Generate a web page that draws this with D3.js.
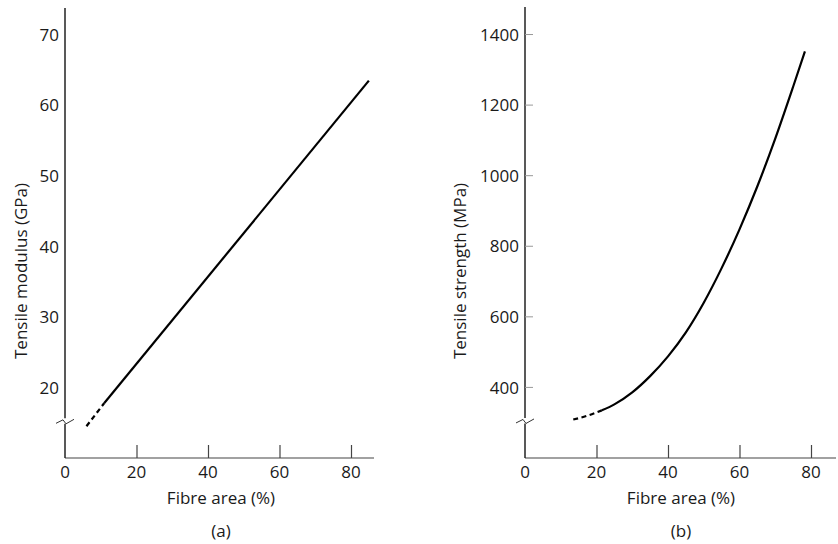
<!DOCTYPE html>
<html>
<head>
<meta charset="utf-8">
<script src="https://cdn.jsdelivr.net/npm/d3@7/dist/d3.min.js"></script>
<style>
html,body{margin:0;padding:0;background:#fff;}
svg{display:block;}
text{font-family:"Open Sans",sans-serif;fill:#1a1a1a;}
</style>
</head>
<body>
<svg id="chart" width="838" height="544"></svg>
<script>
// ---- data ----
const xTicks = [0, 20, 40, 60, 80];
const modulusTicks = [20, 30, 40, 50, 60, 70];
const strengthTicks = [400, 600, 800, 1000, 1200, 1400];

// Panel (a): tensile modulus vs fibre area
const modulusDashedX = [6, 11];
const modulusDashedY = [14.5, 17.8];
const modulusSolidX = [11, 85];
const modulusSolidY = [17.8, 63.5];

// Panel (b): tensile strength vs fibre area
const strengthDashedX = [13.5, 17.5, 21.5];
const strengthDashedY = [309, 320, 335];
const strengthSolidX = [21.5, 25, 30, 35, 40, 45, 50, 55, 60, 65, 70, 75, 78.3];
const strengthSolidY = [335, 352, 386, 432, 488, 556, 640, 738, 848, 970, 1105, 1252, 1352];

const labels = {
  xTitle: "Fibre area (%)",
  aTitle: "Tensile modulus (GPa)",
  bTitle: "Tensile strength (MPa)",
  aCap: "(a)",
  bCap: "(b)"
};

// ---- layout ----
const svg = d3.select("#chart");
const baseY = 458;

const panels = [
  {
    x0: 65, xEnd: 374, top: 8,
    yDomain: [10, 73.8], yRange: [458, 8],
    yTicks: modulusTicks, yTickLen: 0, breakVal: 15.2,
    dashed: modulusDashedX.map((d, i) => [d, modulusDashedY[i]]),
    solid: modulusSolidX.map((d, i) => [d, modulusSolidY[i]]),
    curve: d3.curveLinear,
    title: labels.aTitle, titleX: 27, cap: labels.aCap
  },
  {
    x0: 525, xEnd: 836, top: 7,
    yDomain: [200, 1478], yRange: [458, 7],
    yTicks: strengthTicks, yTickLen: 8, breakVal: 305,
    dashed: strengthDashedX.map((d, i) => [d, strengthDashedY[i]]),
    solid: strengthSolidX.map((d, i) => [d, strengthSolidY[i]]),
    curve: d3.curveMonotoneX,
    title: labels.bTitle, titleX: 466, cap: labels.bCap
  }
];

panels.forEach(p => {
  const x = d3.scaleLinear().domain([0, 80]).range([p.x0, p.x0 + 80 * 3.575]);
  const y = d3.scaleLinear().domain(p.yDomain).range(p.yRange);
  const g = svg.append("g");

  // x axis baseline
  g.append("line")
    .attr("x1", p.x0).attr("x2", p.xEnd)
    .attr("y1", baseY).attr("y2", baseY)
    .attr("stroke", "#444").attr("stroke-width", 1.2);

  // x ticks (inward, upward)
  const xAxis = d3.axisTop(x).tickValues(xTicks.filter(d => d > 0)).tickSize(13).tickFormat("");
  const xa = g.append("g").attr("transform", `translate(0,${baseY})`).call(xAxis);
  xa.select(".domain").remove();
  xa.selectAll(".tick line").attr("stroke", "#444").attr("stroke-width", 1.2);

  // x tick labels
  g.selectAll(".xlab").data(xTicks).enter().append("text")
    .attr("x", d => x(d)).attr("y", 478)
    .attr("text-anchor", "middle").attr("font-size", 17)
    .text(d => d);

  // y axis with break
  const yb = y(p.breakVal);
  g.append("line")
    .attr("x1", p.x0).attr("x2", p.x0)
    .attr("y1", p.top).attr("y2", yb - 3)
    .attr("stroke", "#222").attr("stroke-width", 1.5);
  g.append("line")
    .attr("x1", p.x0).attr("x2", p.x0)
    .attr("y1", yb + 2.5).attr("y2", baseY)
    .attr("stroke", "#222").attr("stroke-width", 1.5);
  g.append("path")
    .attr("d", `M${p.x0 - 9},${yb + 2} L${p.x0 - 2},${yb - 1.5} L${p.x0 + 1},${yb + 2.5} L${p.x0 + 9},${yb - 2}`)
    .attr("fill", "none").attr("stroke", "#333").attr("stroke-width", 1);

  // y ticks
  if (p.yTickLen > 0) {
    g.selectAll(".ytick").data(p.yTicks).enter().append("line")
      .attr("x1", p.x0).attr("x2", p.x0 + p.yTickLen)
      .attr("y1", d => y(d)).attr("y2", d => y(d))
      .attr("stroke", "#999").attr("stroke-width", 1);
  }
  g.selectAll(".ylab").data(p.yTicks).enter().append("text")
    .attr("x", p.x0 - 6).attr("y", d => y(d))
    .attr("dy", "0.36em")
    .attr("text-anchor", "end").attr("font-size", 17)
    .text(d => d);

  // y title
  g.append("text")
    .attr("transform", `translate(${p.titleX},271) rotate(-90)`)
    .attr("text-anchor", "middle").attr("font-size", 17)
    .text(p.title);

  // x title and caption
  const cx = x(0) + (x(80) - x(0)) / 2 + 13;
  g.append("text").attr("x", cx).attr("y", 504)
    .attr("text-anchor", "middle").attr("font-size", 17).text(labels.xTitle);
  g.append("text").attr("x", cx).attr("y", 537)
    .attr("text-anchor", "middle").attr("font-size", 17).text(p.cap);

  // data lines
  const line = d3.line().x(d => x(d[0])).y(d => y(d[1])).curve(p.curve);
  g.append("path").attr("d", line(p.dashed))
    .attr("fill", "none").attr("stroke", "#000").attr("stroke-width", 2.2)
    .attr("stroke-dasharray", "5,3.5");
  g.append("path").attr("d", line(p.solid))
    .attr("fill", "none").attr("stroke", "#000").attr("stroke-width", 2.2);
});
</script>
</body>
</html>
